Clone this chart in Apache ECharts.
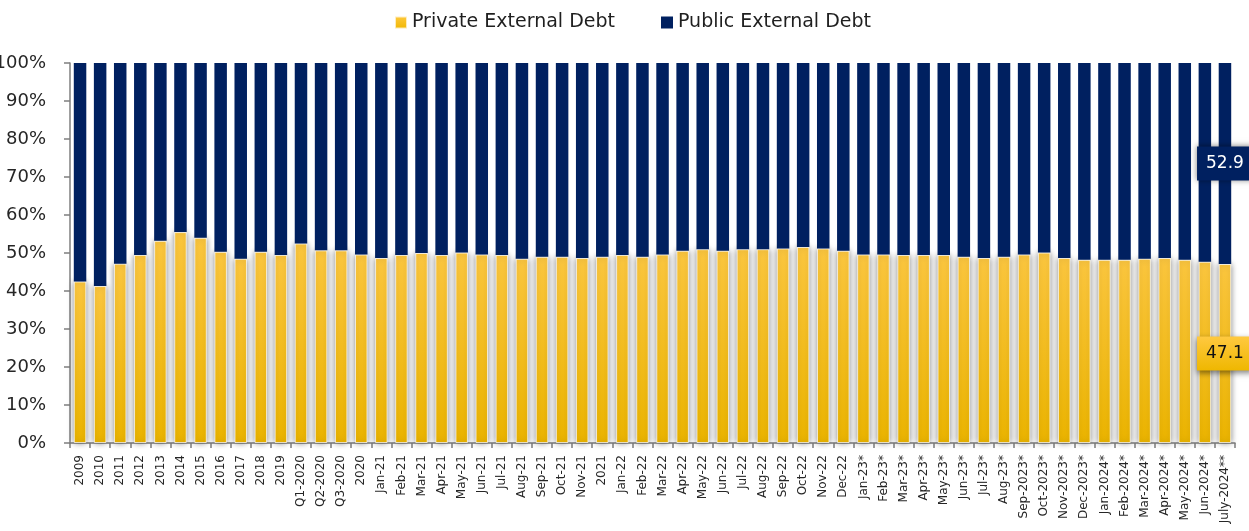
<!DOCTYPE html>
<html>
<head>
<meta charset="utf-8">
<script src="https://cdn.jsdelivr.net/npm/echarts@6/dist/echarts.min.js"></script>
<style>html,body{margin:0;padding:0;background:#fff}#c{width:1249px;height:531px}</style>
</head>
<body>
<div id="c"></div>
<script>
const categories = ["2009","2010","2011","2012","2013","2014","2015","2016","2017","2018","2019",
"Q1-2020","Q2-2020","Q3-2020","2020",
"Jan-21","Feb-21","Mar-21","Apr-21","May-21","Jun-21","Jul-21","Aug-21","Sep-21","Oct-21","Nov-21","2021",
"Jan-22","Feb-22","Mar-22","Apr-22","May-22","Jun-22","Jul-22","Aug-22","Sep-22","Oct-22","Nov-22","Dec-22",
"Jan-23*","Feb-23*","Mar-23*","Apr-23*","May-23*","Jun-23*","Jul-23*","Aug-23*",
"Sep-2023*","Oct-2023*","Nov-2023*","Dec-2023*",
"Jan-2024*","Feb-2024*","Mar-2024*","Apr-2024*","May-2024*","Jun-2024*","July-2024**"];
const privateDebt = [42.5,41.3,47.2,49.5,53.2,55.5,54.0,50.3,48.5,50.3,49.5,
52.5,50.7,50.7,49.6,
48.7,49.5,50.0,49.5,50.1,49.6,49.5,48.5,49.0,49.0,48.7,49.0,
49.5,49.0,49.6,50.6,51.0,50.6,51.0,51.0,51.2,51.6,51.2,50.6,
49.6,49.6,49.5,49.5,49.5,49.0,48.7,49.0,
49.6,50.1,48.7,48.2,
48.2,48.2,48.5,48.7,48.2,47.7,47.1];
const publicDebt = [57.5,58.7,52.8,50.5,46.8,44.5,46.0,49.7,51.5,49.7,50.5,
47.5,49.3,49.3,50.4,
51.3,50.5,50.0,50.5,49.9,50.4,50.5,51.5,51.0,51.0,51.3,51.0,
50.5,51.0,50.4,49.4,49.0,49.4,49.0,49.0,48.8,48.4,48.8,49.4,
50.4,50.4,50.5,50.5,50.5,51.0,51.3,51.0,
50.4,49.9,51.3,51.8,
51.8,51.8,51.5,51.3,51.8,52.3,52.9];
const yTicks = [0,10,20,30,40,50,60,70,80,90,100];

const FONT = "DejaVu Sans";
const yellowGrad = new echarts.graphic.LinearGradient(0,0,0,1,[{offset:0,color:'#FFC940'},{offset:1,color:'#EFB700'}]);
const navy = '#002060';
const last = categories.length - 1;

const privData = privateDebt.map((v,i)=> i===last ? {value:v,label:{
  show:true,position:'inside',formatter:'{c}',color:'#111',fontSize:17,fontFamily:FONT,
  backgroundColor:yellowGrad,padding:[9,9,8,9],
  shadowColor:'rgba(0,0,0,0.5)',shadowBlur:6,shadowOffsetY:2}} : v);
const pubData = publicDebt.map((v,i)=> i===last ? {value:v,label:{
  show:true,position:'inside',formatter:'{c}',color:'#fff',fontSize:17,fontFamily:FONT,
  backgroundColor:navy,padding:[9,9,8,9],
  shadowColor:'rgba(0,0,0,0.5)',shadowBlur:6,shadowOffsetY:-1}} : v);

const legendText = {fontSize:19,color:'#1f1f1f',fontFamily:FONT};
const chart = echarts.init(document.getElementById('c'));
chart.setOption({
  animation:false,
  legend:[
    {top:8,left:389,itemWidth:12,itemHeight:12,icon:'rect',textStyle:legendText,data:['Private External Debt']},
    {top:8,left:656,itemWidth:12,itemHeight:12,icon:'rect',textStyle:legendText,data:['Public External Debt']}
  ],
  grid:{left:70,right:14,top:63,bottom:88,containLabel:false,outerBoundsMode:'none'},
  xAxis:{
    type:'category',data:categories,
    axisLine:{lineStyle:{color:'#7f7f7f',width:1.5}},
    axisTick:{show:true,length:5,lineStyle:{color:'#7f7f7f',width:1.5}},
    axisLabel:{rotate:90,fontSize:12,color:'#262626',fontFamily:FONT,interval:0,margin:12}
  },
  yAxis:{
    type:'value',min:yTicks[0],max:yTicks[yTicks.length-1],interval:10,
    axisLine:{show:true,lineStyle:{color:'#7f7f7f',width:1.5}},
    axisTick:{show:true,length:6,lineStyle:{color:'#7f7f7f',width:1.5}},
    splitLine:{show:false},
    axisLabel:{formatter:'{value}%',fontSize:18,color:'#262626',fontFamily:FONT,margin:24}
  },
  series:[
    {name:'Private External Debt',type:'bar',stack:'d',barWidth:12.5,data:privData,
     itemStyle:{color:yellowGrad,borderColor:'rgba(255,255,255,0.7)',borderWidth:1,
       shadowColor:'rgba(0,0,0,0.5)',shadowBlur:6},
     label:{show:false}},
    {name:'Public External Debt',type:'bar',stack:'d',barWidth:12.5,data:pubData,
     itemStyle:{color:navy},label:{show:false}}
  ]
});
</script>
</body>
</html>
